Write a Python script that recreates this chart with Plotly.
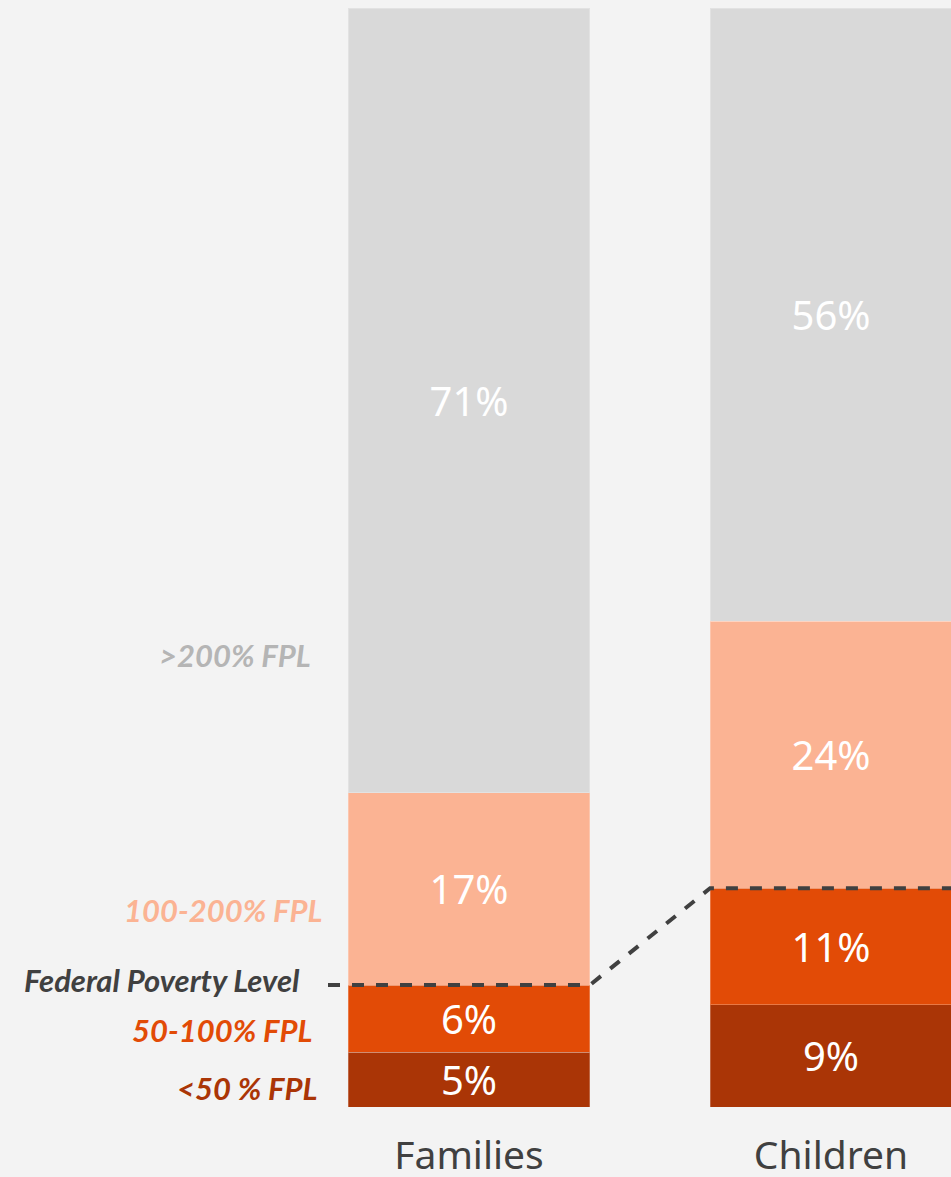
import plotly.graph_objects as go

categories = ["Families", "Children"]
x_pos = [0, 1]
series_names = ["<50 % FPL", "50-100% FPL", "100-200% FPL", ">200% FPL"]
lt50 = [5.0, 9.3]
fpl50_100 = [6.1, 10.6]
fpl100_200 = [17.5, 24.3]
gt200 = [71.4, 55.8]
lt50_lbl = ["5%", "9%"]
fpl50_100_lbl = ["6%", "11%"]
fpl100_200_lbl = ["17%", "24%"]
gt200_lbl = ["71%", "56%"]
colors = ["#aa3506", "#e24b06", "#fbb393", "#d9d9d9"]
label_colors = ["#aa3506", "#e24b06", "#fbb393", "#b5b5b5"]

fig = go.Figure()
for vals, lbls, col, name in zip(
    [lt50, fpl50_100, fpl100_200, gt200],
    [lt50_lbl, fpl50_100_lbl, fpl100_200_lbl, gt200_lbl],
    colors, series_names):
    fig.add_trace(go.Bar(
        x=x_pos, y=vals, name=name, width=0.668,
        marker=dict(color=col, line=dict(color="rgba(255,255,255,0.25)", width=1)),
        text=lbls, textposition="inside", insidetextanchor="middle",
        textfont=dict(color="white", size=40, family="Noto Sans"),
        hoverinfo="skip",
    ))

# Federal poverty level boundary line (top of 50-100% segment)
fpl_fam = lt50[0] + fpl50_100[0]
fpl_chi = lt50[1] + fpl50_100[1]
half = 0.334
fig.add_trace(go.Scatter(
    x=[-0.3895, x_pos[0] + half, x_pos[1] - half, 1.5],
    y=[fpl_fam, fpl_fam, fpl_chi, fpl_chi],
    mode="lines", line=dict(color="#404040", width=4, dash="dash"),
    hoverinfo="skip", showlegend=False,
))

W, H = 951, 1177
top, bottom = 8, 1107
def py(p):
    return (bottom - p) / (bottom - top)

ann = [
    (">200% FPL", 313, 655, label_colors[3]),
    ("100-200% FPL", 324, 910, label_colors[2]),
    ("Federal Poverty Level", 302, 980, "#404040"),
    ("50-100% FPL", 315, 1030, label_colors[1]),
    ("<50 % FPL", 320, 1088, label_colors[0]),
]
for txt, xr, yc, c in ann:
    fig.add_annotation(
        text="<b><i>" + txt + "</i></b>", x=xr / W, y=py(yc), xref="paper", yref="paper",
        xanchor="right", yanchor="middle", showarrow=False,
        font=dict(family="Lato", size=31, color=c),
    )

fig.update_layout(
    width=W, height=H, barmode="stack", showlegend=False,
    paper_bgcolor="#f3f3f3", plot_bgcolor="#f3f3f3",
    margin=dict(l=0, r=0, t=top, b=H - bottom, pad=0, autoexpand=False),
    uniformtext=dict(minsize=40, mode="show"),
    xaxis=dict(range=[-469 / 362, (951 - 469) / 362], tickvals=x_pos, ticktext=categories,
               showgrid=False, zeroline=False, showline=False, ticks="",
               ticklabelstandoff=22, automargin=False,
               tickfont=dict(family="Noto Sans", size=39, color="#404040"),
               fixedrange=True),
    yaxis=dict(range=[0, 100], visible=False, fixedrange=True, automargin=False),
)
fig.write_html("out.html", config={"displayModeBar": False, "staticPlot": True},
               post_script="document.body.style.margin='0px';document.body.style.padding='0px';document.body.style.background='#f3f3f3';")
